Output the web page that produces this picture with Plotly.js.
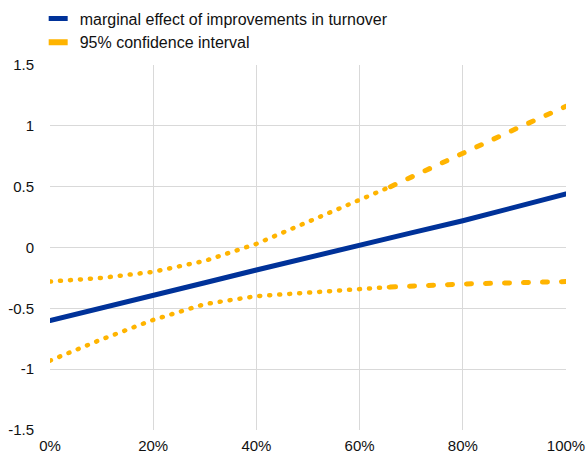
<!DOCTYPE html>
<html>
<head>
<meta charset="utf-8">
<script src="https://cdn.plot.ly/plotly-3.0.1.min.js"></script>
<style>
  html, body { margin: 0; padding: 0; background: #fff; }
  #chart { width: 587px; height: 453px; }
  .scatterlayer .js-line { stroke-linecap: round; }
  .legendlines path { stroke-dasharray: 0px, 4px, 19px, 100px !important; }
</style>
</head>
<body>
<div id="chart"></div>
<script>
// Data
const xMid = [0, 10, 20, 30, 40, 50, 60, 70, 80, 90, 100];
const marginalEffect = [-0.60, -0.50, -0.40, -0.29, -0.185, -0.08, 0.02, 0.12, 0.22, 0.33, 0.44];

const xDotted = [0, 10, 20, 30, 40, 50, 60, 66];
const upperDotted = [-0.28, -0.25, -0.20, -0.11, 0.03, 0.21, 0.39, 0.50];
const lowerDotted = [-0.93, -0.755, -0.595, -0.465, -0.40, -0.37, -0.34, -0.325];

const xDashed = [66, 70, 80, 90, 100];
const upperDashed = [0.50, 0.58, 0.77, 0.97, 1.16];
const lowerDashed = [-0.325, -0.315, -0.30, -0.29, -0.28];

const xTickVals = [0, 20, 40, 60, 80, 100];
const xTickText = ['0%', '20%', '40%', '60%', '80%', '100%'];
const yTickVals = [-1.5, -1, -0.5, 0, 0.5, 1, 1.5];
const yTickText = ['-1.5', '-1', '-0.5', '0', '0.5', '1', '1.5'];

const legendNames = ['marginal effect of improvements in turnover', '95% confidence interval'];

const BLUE = '#003299';
const YELLOW = '#FFB400';

const traces = [
  { x: xDotted, y: upperDotted, mode: 'lines', line: { color: YELLOW, width: 4.5, dash: '1px,9px' }, showlegend: false, hoverinfo: 'skip' },
  { x: xDotted, y: lowerDotted, mode: 'lines', line: { color: YELLOW, width: 4.5, dash: '1px,9px' }, showlegend: false, hoverinfo: 'skip' },
  { x: xDashed, y: upperDashed, mode: 'lines', line: { color: YELLOW, width: 5, dash: '5px,14px' }, showlegend: false, hoverinfo: 'skip' },
  { x: xDashed, y: lowerDashed, mode: 'lines', line: { color: YELLOW, width: 5, dash: '5px,14px' }, showlegend: false, hoverinfo: 'skip' },
  { x: xMid, y: marginalEffect, mode: 'lines', name: legendNames[0], line: { color: BLUE, width: 5 } },
  { x: [null], y: [null], mode: 'lines', name: legendNames[1], line: { color: YELLOW, width: 6 } }
];

const layout = {
  width: 587,
  height: 453,
  margin: { l: 50, r: 21, t: 65, b: 23, pad: 0, autoexpand: false },
  paper_bgcolor: '#ffffff',
  plot_bgcolor: '#ffffff',
  font: { family: 'Liberation Sans, Arial, sans-serif', size: 15, color: '#111111' },
  showlegend: true,
  legend: {
    x: -0.02, xanchor: 'left',
    y: 1.174, yanchor: 'top',
    bgcolor: 'rgba(0,0,0,0)',
    font: { size: 16, color: '#111111' },
    traceorder: 'normal',
    tracegroupgap: 0
  },
  xaxis: {
    range: [0, 100],
    tickvals: xTickVals,
    ticktext: xTickText,
    showgrid: true,
    gridcolor: '#d9d9d9',
    gridwidth: 1,
    zeroline: false,
    showline: false,
    ticks: 'outside',
    ticklen: 2,
    tickcolor: 'rgba(0,0,0,0)',
    fixedrange: true
  },
  yaxis: {
    range: [-1.5, 1.5],
    tickvals: yTickVals,
    ticktext: yTickText,
    showgrid: true,
    gridcolor: '#d9d9d9',
    gridwidth: 1,
    zeroline: false,
    showline: false,
    ticks: 'outside',
    ticklen: 12,
    tickcolor: 'rgba(0,0,0,0)',
    fixedrange: true
  }
};

Plotly.newPlot('chart', traces, layout, { displayModeBar: false, staticPlot: true });
</script>
</body>
</html>
